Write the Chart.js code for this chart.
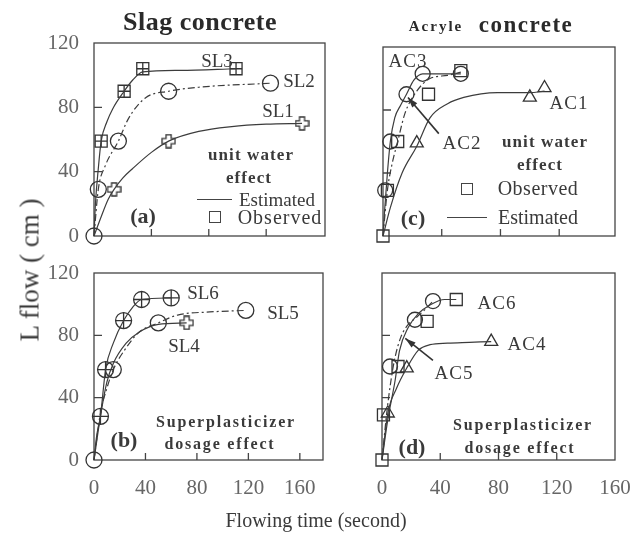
<!DOCTYPE html>
<html><head><meta charset="utf-8">
<script src="https://cdn.jsdelivr.net/npm/chart.js@4"></script>
<style>
body{margin:0;background:#fff;width:635px;height:550px;position:relative;overflow:hidden;font-family:"Liberation Serif","DejaVu Serif",serif;color:#3a3a3a}
.p{position:absolute}
.t{position:absolute;transform:translate(-50%,-50%);white-space:nowrap;line-height:1}
.b{font-weight:bold}
.lb{font-size:19px}
.ac{font-size:19px;letter-spacing:1px}
.sp{font-size:16px;font-weight:bold;letter-spacing:1.8px}
.uw{font-size:17px;font-weight:bold;letter-spacing:1.1px}
</style></head><body>
<div class="p" style="left:0;top:0"><canvas id="ca" width="340" height="264"></canvas></div>
<div class="p" style="left:0;top:245px"><canvas id="cb" width="340" height="305"></canvas></div>
<div class="p" style="left:340px;top:0"><canvas id="cc" width="310" height="250"></canvas></div>
<div class="p" style="left:340px;top:250px"><canvas id="cd" width="310" height="300"></canvas></div>

<div class="t b" style="left:200px;top:22px;font-size:26px;letter-spacing:0.5px;color:#2a2a2a">Slag concrete</div>
<div class="t b" style="left:436px;top:26px;font-size:15px;letter-spacing:2px;color:#2a2a2a">Acryle</div>
<div class="t b" style="left:526px;top:24px;font-size:23px;letter-spacing:1.5px;color:#2a2a2a">concrete</div>
<div class="t" style="left:30px;top:270px;font-size:27px;transform:translate(-50%,-50%) rotate(-90deg)">L flow ( cm )</div>
<div class="t" style="left:316px;top:520px;font-size:20px">Flowing time (second)</div>

<!-- panel a texts -->
<div class="t lb" style="left:217px;top:60px">SL3</div>
<div class="t lb" style="left:299px;top:80px">SL2</div>
<div class="t lb" style="left:278px;top:110px">SL1</div>
<div class="t uw" style="left:251px;top:154px">unit water</div>
<div class="t uw" style="left:249px;top:177px">effect</div>
<div class="p" style="left:197px;top:199px;width:35px;border-top:1.3px solid #444"></div>
<div class="t" style="left:277px;top:199px;font-size:19px">Estimated</div>
<div class="p" style="left:209px;top:211px;width:10px;height:10px;border:1.3px solid #444"></div>
<div class="t" style="left:280px;top:217px;font-size:20px;letter-spacing:1px">Observed</div>
<div class="t b" style="left:143px;top:216px;font-size:22px">(a)</div>

<!-- panel b texts -->
<div class="t lb" style="left:203px;top:292px">SL6</div>
<div class="t lb" style="left:283px;top:312px">SL5</div>
<div class="t lb" style="left:184px;top:345px">SL4</div>
<div class="t sp" style="left:226px;top:422px">Superplasticizer</div>
<div class="t sp" style="left:220px;top:444px">dosage effect</div>
<div class="t b" style="left:124px;top:440px;font-size:22px">(b)</div>

<!-- panel c texts -->
<div class="t ac" style="left:408px;top:60px">AC3</div>
<div class="t ac" style="left:569px;top:102px">AC1</div>
<div class="t ac" style="left:462px;top:142px">AC2</div>
<div class="t uw" style="left:545px;top:141px">unit water</div>
<div class="t uw" style="left:540px;top:164px">effect</div>
<div class="p" style="left:461px;top:183px;width:10px;height:10px;border:1.3px solid #444"></div>
<div class="t" style="left:538px;top:188px;font-size:20px;letter-spacing:0.5px">Observed</div>
<div class="p" style="left:447px;top:217px;width:40px;border-top:1.3px solid #444"></div>
<div class="t" style="left:538px;top:217px;font-size:20px">Estimated</div>
<div class="t b" style="left:413px;top:218px;font-size:22px">(c)</div>

<!-- panel d texts -->
<div class="t ac" style="left:497px;top:302px">AC6</div>
<div class="t ac" style="left:527px;top:343px">AC4</div>
<div class="t ac" style="left:454px;top:372px">AC5</div>
<div class="t sp" style="left:523px;top:425px">Superplasticizer</div>
<div class="t sp" style="left:520px;top:448px">dosage effect</div>
<div class="t b" style="left:412px;top:447px;font-size:22px">(d)</div>

<script>
// ---------- tick values ----------
const xTicks = [0, 40, 80, 120, 160];
const yTicks = [0, 40, 80, 120];

// ---------- panel (a) slag, unit water ----------
const sl1ObsT = [14, 52, 145];
const sl1ObsL = [29, 59, 70];
const sl1EstT = [0, 5, 10, 14, 20, 27, 40, 52, 73, 96, 120, 145];
const sl1EstL = [0, 12, 23, 29, 36, 42, 52, 59, 65, 68, 69.5, 70];
const sl2ObsT = [0, 3, 17, 52, 123];
const sl2ObsL = [0, 29, 59, 90, 95];
const sl2EstT = [0, 3, 8, 17, 24, 36, 52, 73, 123];
const sl2EstL = [0, 29, 44, 59, 73, 86, 90, 92.5, 95];
const sl3ObsT = [5, 21, 34, 99];
const sl3ObsL = [59, 90, 104, 104];
const sl3EstT = [0, 1, 3, 5, 9, 13, 21, 27, 34, 60, 99];
const sl3EstL = [0, 20, 42, 59, 71, 79, 90, 97, 102, 103, 104];

// ---------- panel (b) slag, superplasticizer ----------
const sl4ObsT = [72];
const sl4ObsL = [88];
const sl4EstT = [0, 5, 10, 15, 25, 35, 50, 72];
const sl4EstL = [0, 28, 50, 62, 75, 82, 87, 88];
const sl5ObsT = [0, 15, 50, 118];
const sl5ObsL = [0, 58, 88, 96];
const sl5EstT = [0, 5, 10, 15, 25, 35, 50, 65, 90, 118];
const sl5EstL = [0, 30, 46, 58, 72, 82, 88, 93, 95, 96];
const sl6ObsT = [5, 9, 23, 37, 60];
const sl6ObsL = [28, 58, 89.5, 103, 104];
const sl6EstT = [0, 2, 5, 9, 15, 23, 30, 37, 60];
const sl6EstL = [0, 15, 28, 58, 75, 89.5, 98, 103, 104];

// ---------- panel (c) acryl, unit water ----------
const ac1ObsT = [23, 100, 110];
const ac1ObsL = [59, 88, 94];
const ac1EstT = [0, 5, 13, 23, 32, 44, 55, 78, 100, 110];
const ac1EstL = [0, 18, 40, 57, 75, 84, 88, 91, 91, 92];
const ac2ObsT = [0, 3, 10, 31, 53];
const ac2ObsL = [0, 29, 60, 90, 105];
const ac2EstT = [0, 3, 6, 10, 15, 23, 32, 44, 53];
const ac2EstL = [0, 29, 45, 60, 78, 92, 100, 102, 104];
const ac3ObsT = [1.5, 5, 16, 27, 53];
const ac3ObsL = [29, 60, 90, 103, 103];
const ac3EstT = [0, 1, 3, 5, 8, 12, 16, 21, 27, 40, 53];
const ac3EstL = [0, 15, 40, 60, 75, 83, 90, 99, 103, 103, 103];

// ---------- panel (d) acryl, superplasticizer ----------
const ac4ObsT = [4, 17, 75];
const ac4ObsL = [30, 59, 76];
const ac4EstT = [0, 4, 10, 17, 25, 33, 45, 60, 75];
const ac4EstL = [0, 30, 46, 59, 70.5, 74, 75, 75.5, 76];
const ac5ObsT = [5.5, 22.6, 35];
const ac5ObsL = [60, 90, 102];
const ac5EstT = [0, 3, 6, 9, 13, 18, 23, 30, 35];
const ac5EstL = [0, 28, 50, 66, 79, 87, 91, 97, 102];
const ac6ObsT = [0, 1, 11, 31, 51];
const ac6ObsL = [0, 29, 60, 89, 103];
const ac6EstT = [0, 4, 9, 12, 18, 25, 33, 43, 51];
const ac6EstL = [0, 26, 51, 70, 85, 94, 99.5, 103, 103];

// arrows (data units): [fromT, fromL, toT, toL]
const ac2Arrow = [38, 65, 17, 88];
const ac5Arrow = [35, 64, 16, 78];

// ---------- helpers ----------
const INK = '#333';
const pts = (xs, ys) => xs.map((x, i) => ({x: x, y: ys[i]}));

function greekCross(size) {
  const c = document.createElement('canvas');
  c.width = c.height = size;
  const g = c.getContext('2d');
  const a = size * 0.33, b = size * 0.67, e = 1, f = size - 1;
  g.strokeStyle = INK; g.lineWidth = 1.3; g.fillStyle = '#fff';
  g.beginPath();
  g.moveTo(a, e); g.lineTo(b, e); g.lineTo(b, a); g.lineTo(f, a); g.lineTo(f, b);
  g.lineTo(b, b); g.lineTo(b, f); g.lineTo(a, f); g.lineTo(a, b); g.lineTo(e, b);
  g.lineTo(e, a); g.lineTo(a, a); g.closePath();
  g.fill(); g.stroke();
  return c;
}
const plusShape = greekCross(15);

function est(xs, ys, dashed) {
  return {data: pts(xs, ys), showLine: true, borderColor: '#3c3c3c', borderWidth: 1.2,
    pointRadius: 0, cubicInterpolationMode: 'monotone', borderDash: dashed ? [7, 3, 2, 3] : [],
    clip: false, fill: false};
}
function obs(xs, ys, style, r) {
  return {data: pts(xs, ys), showLine: false, pointStyle: style, pointRadius: r,
    pointBorderColor: INK, pointBackgroundColor: 'rgba(255,255,255,0)', pointBorderWidth: 1.3, clip: false};
}

const framePlugin = {
  id: 'frame',
  beforeDatasetsDraw(chart) {
    const {ctx, chartArea: ca, scales} = chart;
    ctx.save();
    ctx.strokeStyle = '#444'; ctx.lineWidth = 1.3;
    ctx.strokeRect(ca.left, ca.top, ca.right - ca.left, ca.bottom - ca.top);
    ctx.beginPath();
    xTicks.forEach(v => {
      const px = scales.x.getPixelForValue(v);
      if (px > ca.left + 2 && px < ca.right - 2) { ctx.moveTo(px, ca.bottom); ctx.lineTo(px, ca.bottom - 7); }
    });
    yTicks.forEach(v => {
      const py = scales.y.getPixelForValue(v);
      if (py > ca.top + 2 && py < ca.bottom - 2) { ctx.moveTo(ca.left, py); ctx.lineTo(ca.left + 8, py); }
    });
    ctx.stroke();
    ctx.restore();
  },
  afterDatasetsDraw(chart, args, opts) {
    if (!opts.arrow) return;
    const {ctx, scales} = chart;
    const a = opts.arrow;
    const x1 = scales.x.getPixelForValue(a[0]), y1 = scales.y.getPixelForValue(a[1]);
    const x2 = scales.x.getPixelForValue(a[2]), y2 = scales.y.getPixelForValue(a[3]);
    const ang = Math.atan2(y2 - y1, x2 - x1);
    ctx.save();
    ctx.strokeStyle = '#333'; ctx.fillStyle = '#333'; ctx.lineWidth = 1.6;
    ctx.beginPath(); ctx.moveTo(x1, y1); ctx.lineTo(x2, y2); ctx.stroke();
    ctx.beginPath();
    ctx.moveTo(x2, y2);
    ctx.lineTo(x2 - 11 * Math.cos(ang - 0.3), y2 - 11 * Math.sin(ang - 0.3));
    ctx.lineTo(x2 - 11 * Math.cos(ang + 0.3), y2 - 11 * Math.sin(ang + 0.3));
    ctx.closePath(); ctx.fill();
    ctx.restore();
  }
};

const tickFont = {family: '"Liberation Serif", serif', size: 21};

function makeChart(id, datasets, cfg) {
  return new Chart(document.getElementById(id), {
    type: 'scatter',
    data: {datasets: datasets},
    plugins: [framePlugin],
    options: {
      responsive: false, animation: false, events: [],
      layout: {padding: cfg.pad},
      plugins: {legend: {display: false}, tooltip: {enabled: false}, frame: {arrow: cfg.arrow || null}},
      scales: {
        x: {type: 'linear', min: 0, max: cfg.xMax,
          afterBuildTicks: s => { s.ticks = xTicks.map(v => ({value: v})); },
          afterFit: s => { s.height = cfg.xH; },
          grid: {display: false, drawTicks: false}, border: {display: false},
          ticks: {display: cfg.showX, padding: 16, font: tickFont, color: '#666', maxRotation: 0, autoSkip: false}},
        y: {type: 'linear', min: 0, max: 120,
          afterBuildTicks: s => { s.ticks = yTicks.map(v => ({value: v})); },
          afterFit: s => { s.width = cfg.yW; },
          grid: {display: false, drawTicks: false}, border: {display: false},
          ticks: {display: cfg.showY, padding: 15, font: tickFont, color: '#666', autoSkip: false}}
      }
    }
  });
}

// panel a
makeChart('ca', [
  est(sl1EstT, sl1EstL, false), est(sl2EstT, sl2EstL, true), est(sl3EstT, sl3EstL, false),
  obs(sl1ObsT, sl1ObsL, plusShape, 7),
  obs(sl2ObsT, sl2ObsL, 'circle', 8),
  obs(sl3ObsT, sl3ObsL, 'rect', 8.5), obs(sl3ObsT, sl3ObsL, 'cross', 6)
], {pad: {left: 0, top: 43, right: 15, bottom: 28}, xMax: 161, xH: 0, yW: 94, showX: false, showY: true});

// panel b
makeChart('cb', [
  est(sl4EstT, sl4EstL, false), est(sl5EstT, sl5EstL, true), est(sl6EstT, sl6EstL, false),
  obs(sl4ObsT, sl4ObsL, plusShape, 7),
  obs(sl5ObsT, sl5ObsL, 'circle', 8),
  obs(sl6ObsT, sl6ObsL, 'circle', 8), obs(sl6ObsT, sl6ObsL, 'cross', 8)
], {pad: {left: 0, top: 28, right: 17, bottom: 45}, xMax: 178, xH: 45, yW: 94, showX: true, showY: true});

// panel c
makeChart('cc', [
  est(ac1EstT, ac1EstL, false), est(ac2EstT, ac2EstL, true), est(ac3EstT, ac3EstL, false),
  obs(ac1ObsT, ac1ObsL, 'triangle', 7.5),
  obs(ac2ObsT, ac2ObsL, 'rect', 8.5),
  obs(ac3ObsT, ac3ObsL, 'circle', 7.5)
], {pad: {left: 0, top: 47, right: 35, bottom: 14}, xMax: 158, xH: 0, yW: 43, showX: false, showY: false, arrow: ac2Arrow});

// panel d
makeChart('cd', [
  est(ac4EstT, ac4EstL, false), est(ac5EstT, ac5EstL, true), est(ac6EstT, ac6EstL, false),
  obs(ac4ObsT, ac4ObsL, 'triangle', 7.5),
  obs(ac5ObsT, ac5ObsL, 'circle', 7.5),
  obs(ac6ObsT, ac6ObsL, 'rect', 8.5)
], {pad: {left: 0, top: 23, right: 35, bottom: 45}, xMax: 160, xH: 45, yW: 42, showX: true, showY: false, arrow: ac5Arrow});
</script>
</body></html>
